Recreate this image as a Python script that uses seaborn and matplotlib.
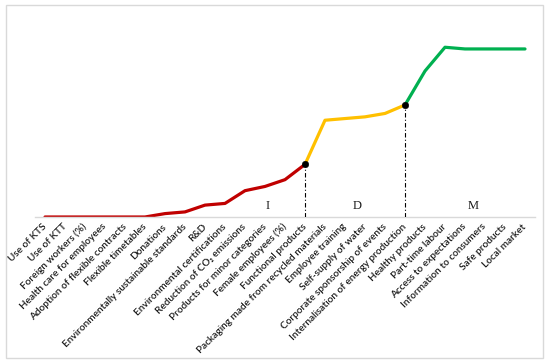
import matplotlib
matplotlib.use("Agg")
import matplotlib.pyplot as plt
import matplotlib.patches as mpatches
import seaborn as sns
import pandas as pd

categories = [
    "Use of KTS", "Use of KTT", "Foreign workers (%)", "Health care for employees",
    "Adoption of flexible contracts", "Flexible timetables", "Donations",
    "Environmentally sustainable standards", "R&D", "Environmental certifications",
    "Reduction of CO\u2082 emissions", "Products for minor categories",
    "Female employees (%)", "Functional products",
    "Packaging made from recycled materials", "Employee training",
    "Self-supply of water", "Corporate sponsorship of events",
    "Internalisation of energy production", "Healthy products",
    "Part-time labour", "Access to expectations", "Information to consumers",
    "Safe products", "Local market",
]
values = [0, 0, 0, 0, 0, 0, 2, 3, 7, 8, 15.5, 18, 22, 31,
          57, 58, 59, 61, 66, 86, 100, 99, 99, 99, 99]
phase_names = ["I", "D", "M"]
phase_bounds = [(0, 13), (13, 18), (18, 24)]
phase_colors = ["#C00000", "#FFC000", "#00B050"]
phase_label_pos = [11.15, 15.6, 21.4]
breakpoints = [13, 18]

sns.set_theme(style="white")
plt.rcParams["font.family"] = ["Lato", "DejaVu Sans"]

rows = []
for name, (a, b) in zip(phase_names, phase_bounds):
    for i in range(a, b + 1):
        rows.append({"pos": i, "value": values[i], "phase": name})
df = pd.DataFrame(rows)

fig = plt.figure(figsize=(5.5, 3.64), dpi=100)
ax = fig.add_axes([35 / 550, 1 - 217 / 364, 500 / 550, (217 - 15) / 364])

sns.lineplot(data=df, x="pos", y="value", hue="phase",
             palette=dict(zip(phase_names, phase_colors)),
             linewidth=2.3, legend=False, sort=False, ax=ax)

bp = pd.DataFrame({"pos": breakpoints, "value": [values[i] for i in breakpoints]})
ax.vlines(bp["pos"], 0, bp["value"], colors="black", linewidth=0.8,
          linestyles=(0, (4, 2, 1, 2)), zorder=3)
sns.scatterplot(data=bp, x="pos", y="value", color="black", s=22,
                edgecolor="black", zorder=5, ax=ax)

for name, x in zip(phase_names, phase_label_pos):
    ax.text(x, 3.0, name, ha="center", va="bottom", fontsize=9,
            family="Liberation Serif", color="#1a1a1a")

ax.set_xlim(-0.5, len(categories) - 0.5)
ax.set_ylim(0, 119)
ax.set_xticks(range(len(categories)))
ax.set_xticklabels(categories, rotation=45, ha="right", va="center",
                   rotation_mode="anchor", fontsize=7.2, color="#1a1a1a",
                   fontweight="semibold")
ax.tick_params(axis="x", length=0, pad=6)
ax.set_yticks([])
ax.set_xlabel("")
ax.set_ylabel("")
for s in ["top", "right", "left"]:
    ax.spines[s].set_visible(False)
ax.spines["bottom"].set_color("#D9D9D9")
ax.spines["bottom"].set_linewidth(1.0)
ax.patch.set_alpha(0)

fig.patches.append(mpatches.Rectangle((6 / 550, 1 - 358 / 364), 537 / 550, 353 / 364,
                                      transform=fig.transFigure, fill=False,
                                      edgecolor="#D9D9D9", linewidth=1.0))

fig.savefig("out.png", dpi=100)
